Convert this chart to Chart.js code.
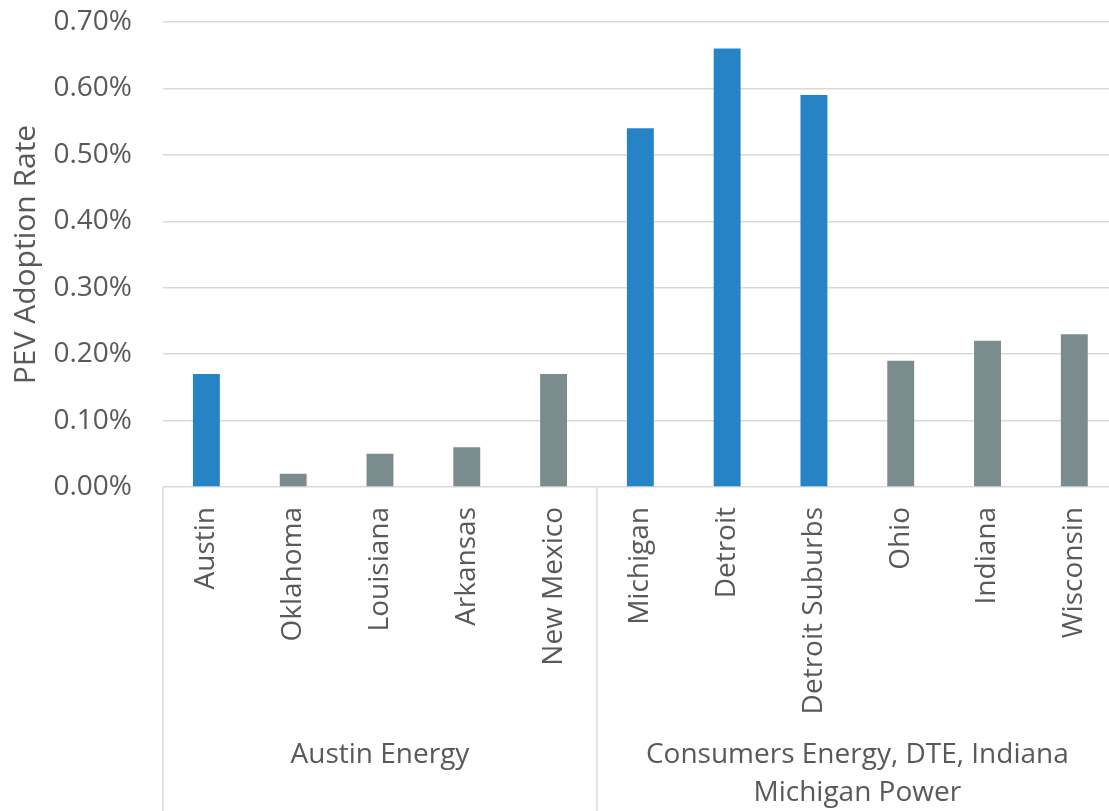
<!DOCTYPE html>
<html>
<head>
<meta charset="utf-8">
<title>PEV Adoption Rate</title>
<script src="https://cdn.jsdelivr.net/npm/chart.js@4"></script>
<style>
  html, body { margin: 0; padding: 0; background: #fff; overflow: hidden; }
  #wrap { width: 1120px; height: 811px; }
</style>
</head>
<body>
<div id="wrap"><canvas id="Chart"></canvas></div>
<script>
// 地域ごとのデータ (単位: %)
let categories = ['Austin', 'Oklahoma', 'Louisiana', 'Arkansas', 'New Mexico',
  'Michigan', 'Detroit', 'Detroit Suburbs', 'Ohio', 'Indiana', 'Wisconsin'];
let adoptionRate = [0.17, 0.02, 0.05, 0.06, 0.17, 0.54, 0.66, 0.59, 0.19, 0.22, 0.23];
let barColors = ['#2683C6', '#7B8C8E', '#7B8C8E', '#7B8C8E', '#7B8C8E',
  '#2683C6', '#2683C6', '#2683C6', '#7B8C8E', '#7B8C8E', '#7B8C8E'];

// 2段目のラベル (電力会社ごとのグループ)
let groupNames = [['Austin Energy'], ['Consumers Energy, DTE, Indiana', 'Michigan Power']];
let groupSizes = [5, 6];

let yTicks = [0, 0.1, 0.2, 0.3, 0.4, 0.5, 0.6, 0.7];

let textColor = '#595959';
let lineColor = '#D9D9D9';
let fontFamily = '"Open Sans", sans-serif';

// グループの区切り線とラベルを描く
let groupPlugin = {
  id: 'groupLabels',
  afterDraw(chart) {
    let ctx = chart.ctx;
    let x = chart.scales.x;
    let top = chart.chartArea.bottom;
    let bottom = chart.height;
    let edges = [x.left];
    let idx = 0;
    groupSizes.forEach(n => {
      idx += n;
      if (idx < categories.length) {
        edges.push((x.getPixelForValue(idx - 1) + x.getPixelForValue(idx)) / 2);
      } else {
        edges.push(x.right);
      }
    });
    ctx.save();
    ctx.strokeStyle = lineColor;
    ctx.lineWidth = 1.5;
    edges.forEach(e => {
      ctx.beginPath();
      ctx.moveTo(e, top);
      ctx.lineTo(e, bottom);
      ctx.stroke();
    });
    ctx.fillStyle = textColor;
    ctx.font = '28px ' + fontFamily;
    ctx.textAlign = 'center';
    ctx.textBaseline = 'middle';
    groupNames.forEach((lines, i) => {
      let cx = (edges[i] + edges[i + 1]) / 2;
      lines.forEach((t, j) => {
        ctx.fillText(t, cx, top + 268 + j * 38);
      });
    });
    ctx.restore();
  }
};

let lineCtx = document.getElementById('Chart');
let lineConfig = {
  type: 'bar',
  data: {
    labels: categories,
    datasets: [{
      data: adoptionRate,
      backgroundColor: barColors,
      barPercentage: 0.31,
      categoryPercentage: 1.0,
    }],
  },
  options: {
    responsive: true,
    maintainAspectRatio: false,
    animation: false,
    layout: { padding: { top: 22, right: 2, left: 0, bottom: 0 } },
    plugins: {
      legend: { display: false },
      tooltip: { enabled: false },
    },
    scales: {
      x: {
        grid: { display: false },
        border: { display: false },
        ticks: {
          color: textColor,
          font: { family: fontFamily, size: 28 },
          minRotation: 90,
          maxRotation: 90,
          padding: 12,
          autoSkip: false,
        },
        afterFit(scale) { scale.height = 324; },
      },
      y: {
        min: 0,
        max: 0.7,
        afterBuildTicks(scale) { scale.ticks = yTicks.map(v => ({ value: v })); },
        grid: { color: lineColor, lineWidth: 1.5, drawTicks: false },
        border: { display: false },
        ticks: {
          color: textColor,
          font: { family: fontFamily, size: 28 },
          padding: 31,
          callback: v => v.toFixed(2) + '%',
        },
        title: {
          display: true,
          text: 'PEV Adoption Rate',
          color: textColor,
          font: { family: fontFamily, size: 30 },
          padding: { top: 8, bottom: 0 },
        },
        afterFit(scale) {
          scale.width = 163;
          // 目盛りの余白が上下に足されないようにする
          scale.paddingTop = 0;
          scale.paddingBottom = 0;
        },
      },
    },
  },
  plugins: [groupPlugin],
};
let lineChart = new Chart(lineCtx, lineConfig);
</script>
</body>
</html>
